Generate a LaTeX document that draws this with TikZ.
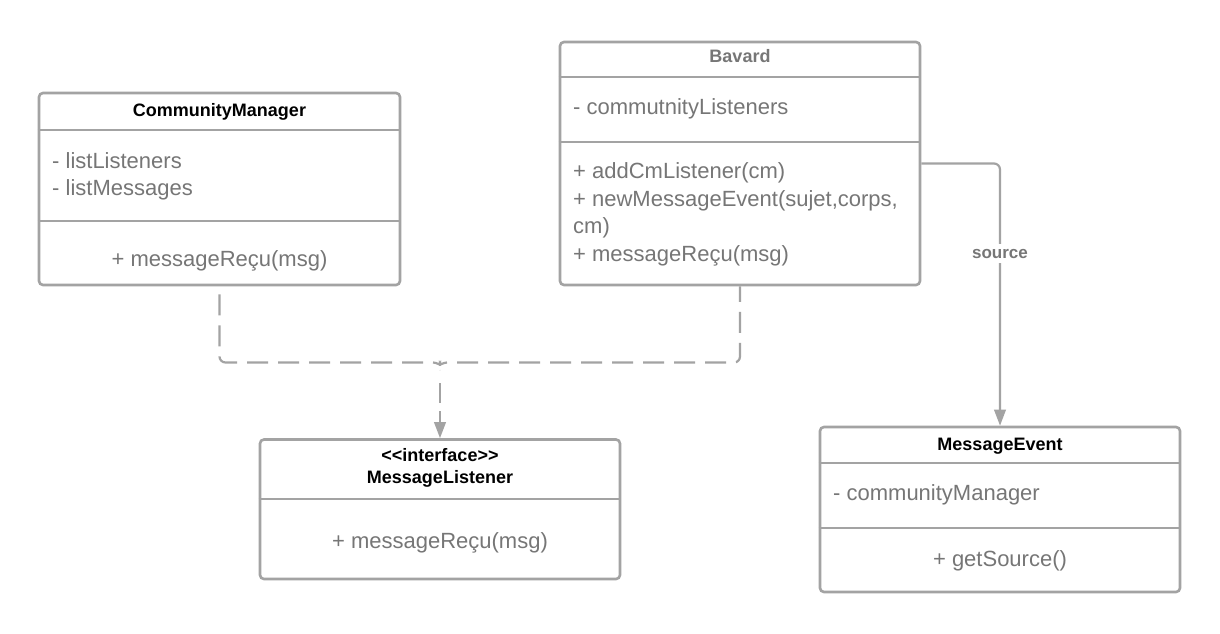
\documentclass[tikz,border=0pt]{standalone}
\usepackage{fontspec}
\setmainfont{Liberation Sans}
\usetikzlibrary{arrows.meta,calc}
\definecolor{linegray}{HTML}{A3A3A3}
\definecolor{txtgray}{HTML}{767676}
\tikzset{
  classbox/.style={draw=linegray, line width=2.6pt, rounded corners=4pt, inner sep=0pt},
  divider/.style={draw=linegray, line width=2.6pt},
  bodytxt/.style={text=txtgray, font=\fontsize{22}{27.5}\selectfont, inner sep=0pt},
  ttl/.style={font=\fontsize{18}{21.5}\selectfont\bfseries, inner sep=0pt},
  conn/.style={draw=linegray, line width=2.2pt, rounded corners=6pt},
  dconn/.style={conn, dash pattern=on 21pt off 10pt},
  tip/.style={-{Triangle[length=16pt,width=11.5pt,fill=linegray]}},
  lbl/.style={text=txtgray, font=\fontsize{17}{20}\selectfont\bfseries, fill=white, inner xsep=2pt, inner ysep=5pt},
}
\begin{document}
\begin{tikzpicture}[x=1pt,y=-1pt]
\useasboundingbox (0,0) rectangle (1220,633);
\fill[white] (0,0) rectangle (1220,633);

% CommunityManager
\node[classbox, minimum width=361pt, minimum height=192pt] (cm) at (219.5,189) {};
\draw[divider] (cm.west |- 0,130) -- (cm.east |- 0,130);
\draw[divider] (cm.west |- 0,221) -- (cm.east |- 0,221);
\node[ttl, anchor=base] (cmt) at (219.5,116.7) {CommunityManager};
\node[bodytxt, anchor=base west] (cma1) at (52,168) {- listListeners};
\node[bodytxt, anchor=base west] (cma2) at (52,195) {- listMessages};
\node[bodytxt, anchor=base] (cmm1) at (219.5,266) {+ messageReçu(msg)};

% Bavard
\node[classbox, minimum width=360pt, minimum height=243pt] (bv) at (740,163.5) {};
\draw[divider] (bv.west |- 0,77) -- (bv.east |- 0,77);
\draw[divider] (bv.west |- 0,142) -- (bv.east |- 0,142);
\node[ttl, text=txtgray, anchor=base] (bvt) at (740,62.7) {Bavard};
\node[bodytxt, anchor=base west] (bva1) at (573,114) {- commutnityListeners};
\node[bodytxt, anchor=base west] (bvm1) at (573,178.5) {+ addCmListener(cm)};
\node[bodytxt, anchor=base west] (bvm2) at (573,206.2) {+ newMessageEvent(sujet,corps,};
\node[bodytxt, anchor=base west] (bvm3) at (573,233.9) {cm)};
\node[bodytxt, anchor=base west] (bvm4) at (573,261.6) {+ messageReçu(msg)};

% MessageListener
\node[classbox, minimum width=360pt, minimum height=139.5pt] (ml) at (440,509.25) {};
\draw[divider] (ml.west |- 0,499) -- (ml.east |- 0,499);
\node[ttl, anchor=base] (mlt1) at (440,461.7) {<{}<interface>{}>};
\node[ttl, anchor=base] (mlt2) at (440,483.3) {MessageListener};
\node[bodytxt, anchor=base] (mlm1) at (440,548.3) {+ messageReçu(msg)};

% MessageEvent
\node[classbox, minimum width=360pt, minimum height=165pt] (me) at (1000,509.5) {};
\draw[divider] (me.west |- 0,463) -- (me.east |- 0,463);
\draw[divider] (me.west |- 0,528) -- (me.east |- 0,528);
\node[ttl, anchor=base] (met) at (1000,450) {MessageEvent};
\node[bodytxt, anchor=base west] (mea1) at (833,500.7) {- communityManager};
\node[bodytxt, anchor=base] (mem1) at (1000,566) {+ getSource()};

% realization connectors (dashed, merging)
\coordinate (j) at (440,362.5);
\coordinate (jl) at (433,362.5);
\coordinate (jr) at (447,362.5);
\coordinate (jd) at (440,369.5);
\draw[dconn, dash phase=21pt] (jl) -| (cm.south);
\draw[dconn, dash phase=21pt] (jr) -| (bv.south);
\draw[conn] (jl) to[out=0,in=90] (jd) to[out=90,in=180] (jr);
\draw[conn, tip, dash pattern=on 0.01pt off 13.5pt on 20pt off 8pt on 60pt] (jd) -- (ml.north);

% association
\draw[conn, tip] (bv.east) -| (me.north);
\node[lbl, anchor=base] (src) at (1000,258.3) {source};
\end{tikzpicture}
\end{document}
